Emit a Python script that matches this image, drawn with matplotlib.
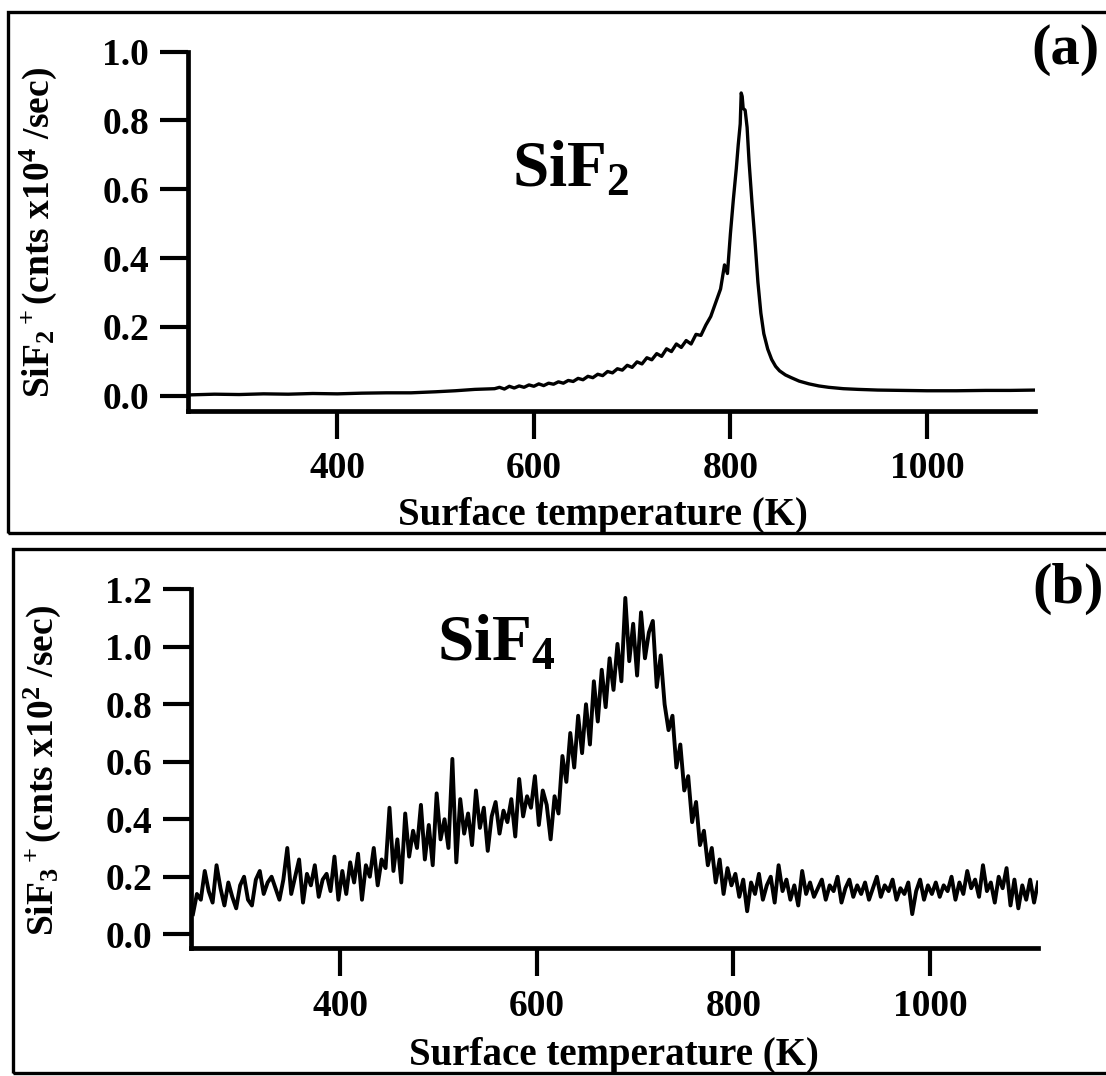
import numpy as np
import matplotlib.pyplot as plt
from matplotlib.patches import Rectangle
from matplotlib.ticker import FormatStrFormatter

plt.rcParams['font.family'] = 'Liberation Serif'
plt.rcParams['font.weight'] = 'bold'
plt.rcParams['mathtext.fontset'] = 'custom'
plt.rcParams['mathtext.rm'] = 'Liberation Serif:bold'
plt.rcParams['mathtext.it'] = 'Liberation Serif:bold'
plt.rcParams['mathtext.bf'] = 'Liberation Serif:bold'
plt.rcParams['mathtext.default'] = 'rm'

# panel (a): SiF2+ signal, counts x1e4 / sec
temp_a = [250, 275, 300, 325, 350, 375, 400, 425, 450, 475, 500, 520, 540,
          560, 565, 570, 575, 580, 585, 590, 595, 600, 605, 610, 615, 620, 625,
          630, 635, 640, 645, 650, 655, 660, 665, 670, 675, 680, 685, 690, 695,
          700, 705, 710, 715, 720, 725, 730, 735, 740, 745, 750, 755, 760, 765,
          770, 775, 780, 785, 790, 794, 797, 800, 803, 806, 808, 810, 811, 812,
          813, 815, 817, 819, 822, 825, 828, 831, 834, 838, 842, 846, 850, 856,
          862, 870, 880, 890, 900, 915, 930, 950, 975, 1000, 1030, 1060, 1085,
          1110]
sif2 = [0.002, 0.004, 0.003, 0.005, 0.004, 0.006, 0.005, 0.007, 0.008, 0.008,
        0.011, 0.014, 0.018,
        0.020, 0.024, 0.019, 0.027, 0.022, 0.028, 0.024, 0.031, 0.027, 0.034,
        0.029, 0.036, 0.033, 0.040, 0.036, 0.044, 0.041, 0.050, 0.046, 0.056,
        0.052, 0.062, 0.058, 0.070, 0.066, 0.078, 0.074, 0.088, 0.082, 0.098,
        0.092, 0.110, 0.104, 0.122, 0.114, 0.136, 0.128, 0.150, 0.140, 0.160,
        0.150, 0.178, 0.175, 0.205, 0.230, 0.270, 0.310,
        0.380, 0.355, 0.470, 0.570, 0.660, 0.730, 0.790, 0.880, 0.870, 0.835,
        0.830, 0.780, 0.680, 0.560, 0.450, 0.330, 0.240, 0.180, 0.135, 0.105,
        0.085, 0.072, 0.060, 0.052, 0.042, 0.034, 0.028, 0.024, 0.020, 0.018,
        0.016, 0.015, 0.014, 0.014, 0.015, 0.015, 0.016]

# panel (b): SiF3+ signal, counts x1e2 / sec, sampled every 4 K
temp_b = np.arange(250, 1111, 4)
sif3 = [
    0.07, 0.14, 0.12, 0.22, 0.15, 0.11, 0.24, 0.16, 0.10, 0.18,
    0.13, 0.09, 0.17, 0.20, 0.12, 0.10, 0.19, 0.22, 0.14, 0.18,
    0.20, 0.16, 0.12, 0.19, 0.30, 0.14, 0.20, 0.26, 0.11, 0.21,
    0.17, 0.24, 0.13, 0.19, 0.21, 0.15, 0.27, 0.12, 0.22, 0.14,
    0.25, 0.18, 0.28, 0.12, 0.24, 0.20, 0.30, 0.17, 0.26, 0.23,
    0.44, 0.22, 0.33, 0.18, 0.42, 0.27, 0.36, 0.30, 0.45, 0.26,
    0.38, 0.24, 0.49, 0.33, 0.40, 0.30, 0.61, 0.25, 0.47, 0.35,
    0.42, 0.31, 0.50, 0.37, 0.44, 0.29, 0.41, 0.46, 0.35, 0.43,
    0.39, 0.47, 0.34, 0.54, 0.41, 0.48, 0.44, 0.55, 0.38, 0.50,
    0.45, 0.33, 0.48, 0.42, 0.62, 0.53, 0.70, 0.58, 0.76, 0.63,
    0.80, 0.66, 0.88, 0.74, 0.92, 0.79, 0.96, 0.85, 1.01, 0.88,
    1.17, 0.95, 1.08, 0.90, 1.12, 0.96, 1.05, 1.09, 0.86, 0.97,
    0.80, 0.71, 0.76, 0.58, 0.66, 0.50, 0.55, 0.39, 0.46, 0.31,
    0.36, 0.24, 0.30, 0.18, 0.26, 0.14, 0.23, 0.17, 0.21, 0.13,
    0.19, 0.08, 0.18, 0.14, 0.21, 0.12, 0.17, 0.20, 0.11, 0.24,
    0.15, 0.19, 0.12, 0.17, 0.10, 0.22, 0.14, 0.18, 0.13, 0.16,
    0.19, 0.12, 0.17, 0.15, 0.20, 0.11, 0.16, 0.19, 0.13, 0.17,
    0.14, 0.18, 0.12, 0.16, 0.20, 0.13, 0.17, 0.15, 0.19, 0.12,
    0.16, 0.14, 0.18, 0.07, 0.15, 0.19, 0.12, 0.17, 0.14, 0.18,
    0.13, 0.17, 0.15, 0.20, 0.12, 0.18, 0.14, 0.22, 0.16, 0.19,
    0.13, 0.24, 0.15, 0.18, 0.11, 0.20, 0.16, 0.23, 0.10, 0.19,
    0.09, 0.17, 0.12, 0.19, 0.11, 0.18,
]

xticks = [400, 600, 800, 1000]
yticks_a = [0.0, 0.2, 0.4, 0.6, 0.8, 1.0]
yticks_b = [0.0, 0.2, 0.4, 0.6, 0.8, 1.0, 1.2]

W, H = 1106, 1076
fig = plt.figure(figsize=(W / 100, H / 100), dpi=100)


def px_box(l, t, r, b):
    return [l / W, 1 - b / H, (r - l) / W, (b - t) / H]


def px(x, y):
    return x / W, 1 - y / H


def style(ax, ymin, ymax, yticks):
    ax.set_xlim(248, 1110)
    ax.set_ylim(ymin, ymax)
    for s in ['top', 'right']:
        ax.spines[s].set_visible(False)
    for s in ['left', 'bottom']:
        ax.spines[s].set_linewidth(3.4)
    ax.set_xticks(xticks)
    ax.set_yticks(yticks)
    ax.yaxis.set_major_formatter(FormatStrFormatter('%.1f'))
    ax.tick_params(direction='out', length=20, width=3.0, labelsize=27)
    ax.tick_params(axis='y', pad=8)
    ax.tick_params(axis='x', pad=9)
    ax.patch.set_alpha(0)


# panel frames (right side runs off the page)
fig.add_artist(Rectangle(px(8, 533), 1.2, 521 / H, transform=fig.transFigure,
                         fill=False, lw=2.4, ec='black'))
fig.add_artist(Rectangle(px(13, 1073), 1.2, 524 / H, transform=fig.transFigure,
                         fill=False, lw=2.4, ec='black'))

# (a)
ax1 = fig.add_axes(px_box(188, 51.7, 1035, 410.7))
ax1.plot(temp_a, sif2, color='black', lw=2.4)
style(ax1, -0.044, 1.0, yticks_a)
fig.text(*px(512, 186), 'SiF$_2$', fontsize=47, ha='left', va='baseline')
fig.text(*px(1066, 50), '(a)', fontsize=42, ha='center', va='center')
fig.text(*px(38, 232), 'SiF$_2$$^+$(cnts x10$^4$ /sec)', fontsize=27,
         rotation=90, ha='center', va='center')
fig.text(*px(603, 516), 'Surface temperature (K)', fontsize=28,
         ha='center', va='center')

# (b)
ax2 = fig.add_axes(px_box(191, 589.3, 1038, 948.3))
ax2.plot(temp_b, sif3, color='black', lw=2.8)
style(ax2, -0.049, 1.2, yticks_b)
fig.text(*px(437, 660), 'SiF$_4$', fontsize=47, ha='left', va='baseline')
fig.text(*px(1068, 589), '(b)', fontsize=42, ha='center', va='center')
fig.text(*px(42, 770), 'SiF$_3$$^+$(cnts x10$^2$ /sec)', fontsize=27,
         rotation=90, ha='center', va='center')
fig.text(*px(614, 1056), 'Surface temperature (K)', fontsize=28,
         ha='center', va='center')

fig.savefig('out.png', dpi=100)
